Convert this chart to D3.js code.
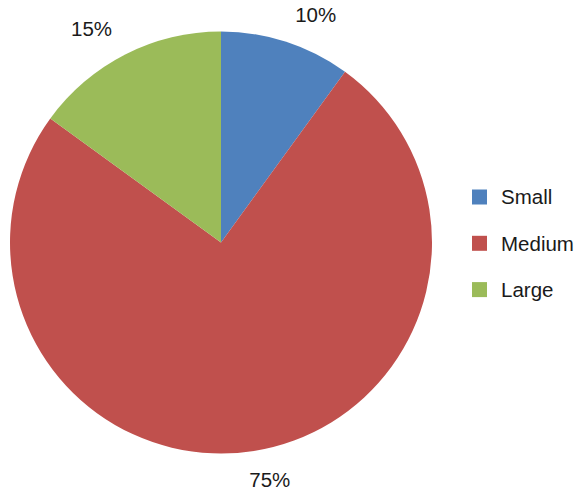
<!DOCTYPE html>
<html>
<head>
<meta charset="utf-8">
<script src="https://cdn.jsdelivr.net/npm/d3@7"></script>
<style>
  html, body { margin: 0; padding: 0; background: #fff; }
  svg { display: block; }
  text { font-family: "Liberation Sans", Arial, sans-serif; fill: #1a1a1a; }
</style>
</head>
<body>
<svg id="chart" width="583" height="493"></svg>
<script>
// Share of items by size
const categories = ["Small", "Medium", "Large"];
const shares = [10, 75, 15];
const labels = ["10%", "75%", "15%"];
const colors = ["#4F81BD", "#C0504D", "#9BBB59"];

const width = 583, height = 493;
const cx = 221, cy = 242.5, radius = 211;

const svg = d3.select("#chart");

const color = d3.scaleOrdinal().domain(categories).range(colors);

const pie = d3.pie().sort(null).value(d => d.value);
const arcs = pie(categories.map((c, i) => ({ name: c, value: shares[i], label: labels[i] })));

const arc = d3.arc().innerRadius(0).outerRadius(radius);

const g = svg.append("g").attr("transform", `translate(${cx},${cy})`);

g.selectAll("path.slice")
  .data(arcs)
  .join("path")
  .attr("class", "slice")
  .attr("d", arc)
  .attr("fill", d => color(d.data.name));

// Percentage labels placed outside the pie along each slice's mid angle,
// shifted sideways so the text box clears the rim.
const labelRadius = 240;
const fontSize = 20.5;
g.selectAll("text.pct")
  .data(arcs)
  .join("text")
  .attr("class", "pct")
  .attr("font-size", fontSize)
  .attr("text-anchor", "middle")
  .text(d => d.data.label)
  .each(function (d) {
    const a = (d.startAngle + d.endAngle) / 2;
    const w = this.getComputedTextLength();
    const shift = (w / 2) * Math.max(-1, Math.min(1, Math.sin(a) * 3.5));
    const x = labelRadius * Math.sin(a) + shift;
    const y = -labelRadius * Math.cos(a);
    d3.select(this).attr("x", x).attr("y", y + 7.3);
  });

// Legend
const legend = svg.append("g").attr("transform", "translate(472,197)");
const item = legend.selectAll("g.item")
  .data(categories)
  .join("g")
  .attr("class", "item")
  .attr("transform", (d, i) => `translate(0,${i * 46.3})`);

item.append("rect")
  .attr("x", 0)
  .attr("y", -7.5)
  .attr("width", 15)
  .attr("height", 15)
  .attr("fill", d => color(d));

item.append("text")
  .attr("x", 29)
  .attr("y", 7.3)
  .attr("font-size", fontSize)
  .text(d => d);
</script>
</body>
</html>
